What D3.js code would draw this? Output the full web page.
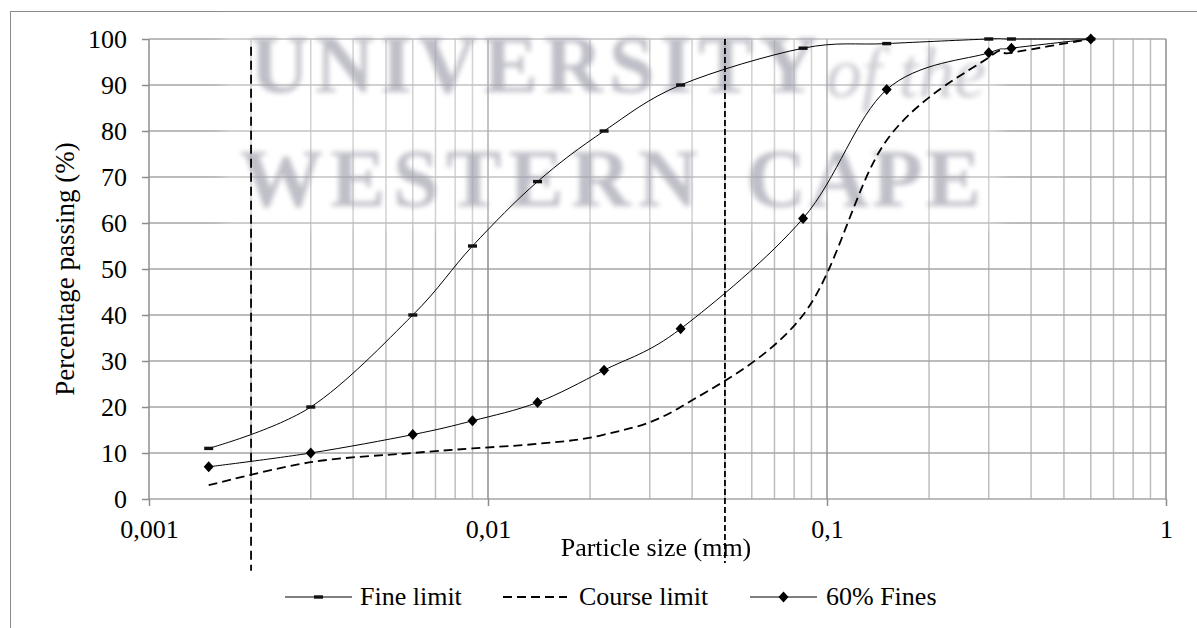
<!DOCTYPE html>
<html>
<head>
<meta charset="utf-8">
<script src="https://cdn.jsdelivr.net/npm/d3@7"></script>
<style>
  html, body { margin: 0; padding: 0; background: #fff; }
  svg { display: block; font-family: "Liberation Serif", "Times New Roman", serif; }
</style>
</head>
<body>
<svg id="chart" width="1197" height="628"></svg>
<script>
// Sieve / hydrometer particle sizes (mm)
const sizes = [0.0015, 0.003, 0.006, 0.009, 0.014, 0.022, 0.037, 0.085, 0.15, 0.3, 0.35, 0.6];

// Percentage passing for each grading curve
const fineLimit   = [11, 20, 40, 55, 69, 80, 90, 98, 99, 100, 100, 100];
const courseLimit = [3, 8, 10, 11, 12, 14, 20, 40, 78, 96, 97, 100];
const fines60     = [7, 10, 14, 17, 21, 28, 37, 61, 89, 97, 98, 100];

// Vertical boundary lines (size, start %, end %)
const boundarySizes = [0.002, 0.05];
const boundaryTop   = [98.3, 100];
const boundaryBot   = [-15.6, -13.9];

// Axis ticks
const xTicks = [0.001, 0.01, 0.1, 1];
const xTickLabels = ["0,001", "0,01", "0,1", "1"];
const yTicks = [0, 10, 20, 30, 40, 50, 60, 70, 80, 90, 100];

const seriesNames = ["Fine limit", "Course limit", "60% Fines"];

const SERIF = '"Liberation Serif", "Times New Roman", serif';
const svg = d3.select("#chart");
const FONT = 26;

const x = d3.scaleLog().domain([0.001, 1]).range([149, 1166]);
const y = d3.scaleLinear().domain([0, 100]).range([499, 39]);

// outer frame
svg.append("rect")
  .attr("x", 10.5).attr("y", 11.5)
  .attr("width", 1300).attr("height", 800)
  .attr("fill", "none").attr("stroke", "#8a8a8a").attr("stroke-width", 1);

const defs = svg.append("defs");
defs.append("filter").attr("id", "soft").attr("x", "-10%").attr("y", "-30%").attr("width", "120%").attr("height", "160%")
  .append("feGaussianBlur").attr("stdDeviation", 2.4);
defs.append("filter").attr("id", "haze").attr("x", "-5%").attr("y", "-10%").attr("width", "110%").attr("height", "120%")
  .append("feGaussianBlur").attr("stdDeviation", 6);

// grid: minor and major verticals on the log axis
const minorX = [];
for (let dec = 0.001; dec < 1; dec *= 10) {
  for (let k = 2; k <= 9; k++) minorX.push(+(dec * k).toPrecision(3));
}
const grid = svg.append("g");
grid.selectAll("line.minor").data(minorX).join("line")
  .attr("x1", d => x(d)).attr("x2", d => x(d))
  .attr("y1", y(100)).attr("y2", y(0))
  .attr("stroke", "#bdbdbd").attr("stroke-width", 1.5);
grid.selectAll("line.hgrid").data(yTicks).join("line")
  .attr("x1", x(0.001)).attr("x2", x(1))
  .attr("y1", d => y(d)).attr("y2", d => y(d))
  .attr("stroke", "#a6a6a6").attr("stroke-width", 1.5);
grid.selectAll("line.major").data(xTicks).join("line")
  .attr("x1", d => x(d)).attr("x2", d => x(d))
  .attr("y1", y(100)).attr("y2", y(0))
  .attr("stroke", "#8c8c8c").attr("stroke-width", 1.5);

// axes
const yAxis = svg.append("g")
  .attr("transform", `translate(${x(0.001)},0)`)
  .call(d3.axisLeft(y).tickValues(yTicks).tickSize(7).tickPadding(15));
const xAxis = svg.append("g")
  .attr("transform", `translate(0,${y(0)})`)
  .call(d3.axisBottom(x).tickValues(xTicks).tickSize(7).tickPadding(14)
    .tickFormat((d, i) => xTickLabels[i]));
[yAxis, xAxis].forEach(a => {
  a.attr("font-family", SERIF);
  a.select(".domain").remove();
  a.selectAll(".tick line").attr("stroke", "#8c8c8c").attr("stroke-width", 1.5);
  a.selectAll("text").attr("fill", "#000").style("font-size", FONT + "px").style("font-family", SERIF);
});

// watermark
const wm = svg.append("g");
wm.append("rect").attr("x", 222).attr("y", 18).attr("width", 780).attr("height", 210)
  .attr("fill", "#fff").attr("opacity", 0.32).attr("filter", "url(#haze)");
const wmText = wm.append("g").attr("filter", "url(#soft)").attr("fill", "#9e9eac")
  .attr("opacity", 0.66).attr("font-weight", "bold").style("font-family", SERIF);
wmText.append("text").attr("x", 250).attr("y", 92).attr("font-size", 82)
  .attr("textLength", 568).attr("lengthAdjust", "spacing").text("UNIVERSITY");
wmText.append("text").attr("x", 826).attr("y", 97).attr("font-size", 72).attr("font-style", "italic")
  .attr("font-weight", "normal").attr("opacity", 0.8)
  .attr("textLength", 160).attr("lengthAdjust", "spacing").text("of the");
wmText.append("text").attr("x", 240).attr("y", 206).attr("font-size", 83)
  .attr("textLength", 458).attr("lengthAdjust", "spacing").text("WESTERN");
wmText.append("text").attr("x", 746).attr("y", 206).attr("font-size", 83)
  .attr("textLength", 235).attr("lengthAdjust", "spacing").text("CAPE");

// boundary lines
svg.selectAll("line.bound").data(boundarySizes).join("line")
  .attr("x1", d => x(d)).attr("x2", d => x(d))
  .attr("y1", (d, i) => y(boundaryTop[i])).attr("y2", (d, i) => y(boundaryBot[i]))
  .attr("stroke", "#000").attr("stroke-width", 1.8)
  .attr("stroke-dasharray", (d, i) => i === 0 ? "9,5" : "6,3");

// curves
const line = d3.line().x(d => x(d[0])).y(d => y(d[1])).curve(d3.curveCatmullRom.alpha(0));
const pts = vals => sizes.map((s, i) => [s, vals[i]]);

svg.append("path").datum(pts(courseLimit)).attr("d", line)
  .attr("fill", "none").attr("stroke", "#000").attr("stroke-width", 1.8).attr("stroke-dasharray", "9,5");
svg.append("path").datum(pts(fineLimit)).attr("d", line)
  .attr("fill", "none").attr("stroke", "#000").attr("stroke-width", 1);
svg.append("path").datum(pts(fines60)).attr("d", line)
  .attr("fill", "none").attr("stroke", "#000").attr("stroke-width", 1);

// markers
const dash = (g, cx, cy) => g.append("rect").attr("x", cx - 4.5).attr("y", cy - 1.7)
  .attr("width", 9).attr("height", 3.4).attr("fill", "#111");
const diamond = (g, cx, cy) => g.append("path")
  .attr("d", `M${cx},${cy - 5.5}L${cx + 5},${cy}L${cx},${cy + 5.5}L${cx - 5},${cy}Z`).attr("fill", "#000");

const mk = svg.append("g");
pts(fineLimit).forEach(p => dash(mk, x(p[0]), y(p[1])));
pts(fines60).forEach(p => diamond(mk, x(p[0]), y(p[1])));

// axis titles
svg.append("text").attr("x", 656).attr("y", 556).attr("text-anchor", "middle")
  .style("font-family", SERIF).style("font-size", FONT + "px").text("Particle size (mm)");
svg.append("text").attr("transform", "translate(74,269) rotate(-90)").attr("text-anchor", "middle")
  .style("font-family", SERIF).style("font-size", "27px").text("Percentage passing (%)");

// legend
const lg = svg.append("g").style("font-family", SERIF);
const ly = 597;
const legendX = [285, 503, 750];
const legendText = [360, 579, 826];
lg.append("line").attr("x1", legendX[0]).attr("x2", legendX[0] + 67).attr("y1", ly).attr("y2", ly)
  .attr("stroke", "#000").attr("stroke-width", 1);
dash(lg, legendX[0] + 33.5, ly);
lg.append("line").attr("x1", legendX[1]).attr("x2", legendX[1] + 64).attr("y1", ly).attr("y2", ly)
  .attr("stroke", "#000").attr("stroke-width", 1.8).attr("stroke-dasharray", "9,5");
lg.append("line").attr("x1", legendX[2]).attr("x2", legendX[2] + 67).attr("y1", ly).attr("y2", ly)
  .attr("stroke", "#000").attr("stroke-width", 1);
diamond(lg, legendX[2] + 33.5, ly);
lg.selectAll("text").data(seriesNames).join("text")
  .attr("x", (d, i) => legendText[i]).attr("y", 605)
  .style("font-size", FONT + "px").text(d => d);
</script>
</body>
</html>
